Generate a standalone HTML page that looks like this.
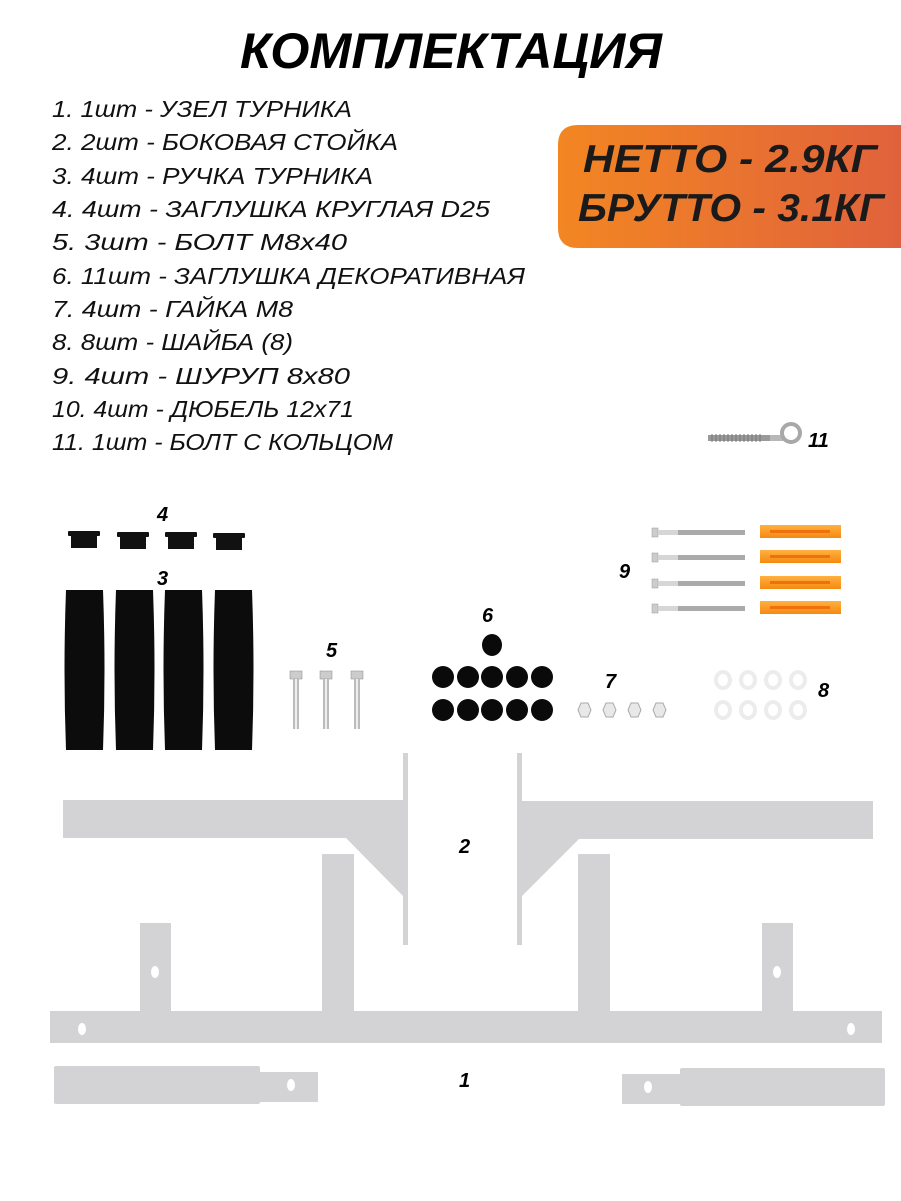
<!DOCTYPE html>
<html><head><meta charset="utf-8"><style>
html,body{margin:0;padding:0;background:#fff;}
svg{display:block;}
text{font-family:"Liberation Sans",sans-serif;}
</style></head><body>
<svg width="901" height="1201" viewBox="0 0 901 1201" xmlns="http://www.w3.org/2000/svg">
<defs>
<linearGradient id="og" x1="0" x2="1" y1="0" y2="0"><stop offset="0" stop-color="#f38622"/><stop offset="1" stop-color="#e0623c"/></linearGradient>
<linearGradient id="dw" x1="0" x2="0" y1="0" y2="1"><stop offset="0" stop-color="#ffb040"/><stop offset="1" stop-color="#f58a10"/></linearGradient>
</defs>
<text x="451" y="68" text-anchor="middle" font-size="50" font-weight="bold" font-style="italic" textLength="422" lengthAdjust="spacingAndGlyphs">КОМПЛЕКТАЦИЯ</text>
<g font-size="23" font-style="italic" fill="#111">
<text x="52" y="117" textLength="300" lengthAdjust="spacingAndGlyphs">1.  1шт - УЗЕЛ ТУРНИКА</text>
<text x="52" y="150" textLength="346" lengthAdjust="spacingAndGlyphs">2. 2шт - БОКОВАЯ СТОЙКА</text>
<text x="52" y="184" textLength="321" lengthAdjust="spacingAndGlyphs">3. 4шт - РУЧКА ТУРНИКА</text>
<text x="52" y="217" textLength="438" lengthAdjust="spacingAndGlyphs">4. 4шт - ЗАГЛУШКА КРУГЛАЯ D25</text>
<text x="52" y="250" textLength="295" lengthAdjust="spacingAndGlyphs">5. 3шт - БОЛТ М8х40</text>
<text x="52" y="284" textLength="473" lengthAdjust="spacingAndGlyphs">6. 11шт - ЗАГЛУШКА ДЕКОРАТИВНАЯ</text>
<text x="52" y="317" textLength="241" lengthAdjust="spacingAndGlyphs">7.  4шт - ГАЙКА М8</text>
<text x="52" y="350" textLength="241" lengthAdjust="spacingAndGlyphs">8. 8шт - ШАЙБА (8)</text>
<text x="52" y="384" textLength="298" lengthAdjust="spacingAndGlyphs">9. 4шт - ШУРУП 8х80</text>
<text x="52" y="417" textLength="302" lengthAdjust="spacingAndGlyphs">10. 4шт - ДЮБЕЛЬ 12х71</text>
<text x="52" y="450" textLength="341" lengthAdjust="spacingAndGlyphs">11. 1шт - БОЛТ С КОЛЬЦОМ</text>
</g>
<path d="M578 125 H901 V248 H578 Q558 248 558 228 V145 Q558 125 578 125Z" fill="url(#og)"/>
<text x="583" y="172" font-size="39" font-weight="bold" font-style="italic" fill="#1a1a1a" textLength="294" lengthAdjust="spacingAndGlyphs">НЕТТО - 2.9КГ</text>
<text x="578" y="221" font-size="39" font-weight="bold" font-style="italic" fill="#1a1a1a" textLength="306" lengthAdjust="spacingAndGlyphs">БРУТТО - 3.1КГ</text>
<g>
<rect x="708" y="435" width="70" height="6" fill="#9a9a9a"/>
<g stroke="#777" stroke-width="1"><path d="M712 434 v8 M716 434 v8 M720 434 v8 M724 434 v8 M728 434 v8 M732 434 v8 M736 434 v8 M740 434 v8 M744 434 v8 M748 434 v8 M752 434 v8 M756 434 v8 M760 434 v8"/></g>
<rect x="770" y="435" width="14" height="6" fill="#b8b8b8"/>
<circle cx="791" cy="433" r="9" fill="none" stroke="#a8a8a8" stroke-width="4"/>
</g>
<g font-size="20" font-weight="bold" font-style="italic" fill="#000">
<text x="808" y="447">11</text>
<text x="157" y="521">4</text>
<text x="157" y="585">3</text>
<text x="326" y="657">5</text>
<text x="482" y="622">6</text>
<text x="605" y="688">7</text>
<text x="818" y="697">8</text>
<text x="619" y="578">9</text>
<text x="459" y="853">2</text>
<text x="459" y="1087">1</text>
</g>
<g fill="#111">
<rect x="68" y="531" width="32" height="5" rx="1"/><rect x="71" y="536" width="26" height="12"/>
<rect x="117" y="532" width="32" height="5" rx="1"/><rect x="120" y="537" width="26" height="12"/>
<rect x="165" y="532" width="32" height="5" rx="1"/><rect x="168" y="537" width="26" height="12"/>
<rect x="213" y="533" width="32" height="5" rx="1"/><rect x="216" y="538" width="26" height="12"/>
</g>
<g fill="#0c0c0c">
<path d="M66 590 H103 Q106 670 103 750 H66 Q63 670 66 590Z"/>
<path d="M116 590 H153 Q156 670 153 750 H116 Q113 670 116 590Z"/>
<path d="M165 590 H202 Q205 670 202 750 H165 Q162 670 165 590Z"/>
<path d="M215 590 H252 Q255 670 252 750 H215 Q212 670 215 590Z"/>
</g>
<g>
<rect x="290" y="671" width="12" height="8" fill="#ccc" stroke="#888" stroke-width="0.5"/><rect x="293" y="679" width="6" height="50" fill="#bbb"/><rect x="295" y="679" width="2" height="50" fill="#eee"/>
<rect x="320" y="671" width="12" height="8" fill="#ccc" stroke="#888" stroke-width="0.5"/><rect x="323" y="679" width="6" height="50" fill="#bbb"/><rect x="325" y="679" width="2" height="50" fill="#eee"/>
<rect x="351" y="671" width="12" height="8" fill="#ccc" stroke="#888" stroke-width="0.5"/><rect x="354" y="679" width="6" height="50" fill="#bbb"/><rect x="356" y="679" width="2" height="50" fill="#eee"/>
</g>
<g fill="#0a0a0a">
<ellipse cx="492" cy="645" rx="10" ry="11"/>
<ellipse cx="443" cy="677" rx="11" ry="11"/><ellipse cx="468" cy="677" rx="11" ry="11"/><ellipse cx="492" cy="677" rx="11" ry="11"/><ellipse cx="517" cy="677" rx="11" ry="11"/><ellipse cx="542" cy="677" rx="11" ry="11"/>
<ellipse cx="443" cy="710" rx="11" ry="11"/><ellipse cx="468" cy="710" rx="11" ry="11"/><ellipse cx="492" cy="710" rx="11" ry="11"/><ellipse cx="517" cy="710" rx="11" ry="11"/><ellipse cx="542" cy="710" rx="11" ry="11"/>
</g>
<g fill="#e8e8e8" stroke="#aaa" stroke-width="1">
<polygon points="578,710 581,703 588,703 591,710 588,717 581,717"/>
<polygon points="603,710 606,703 613,703 616,710 613,717 606,717"/>
<polygon points="628,710 631,703 638,703 641,710 638,717 631,717"/>
<polygon points="653,710 656,703 663,703 666,710 663,717 656,717"/>
</g>
<g fill="none" stroke="#ececec" stroke-width="4">
<ellipse cx="723" cy="680" rx="7" ry="8"/><ellipse cx="748" cy="680" rx="7" ry="8"/><ellipse cx="773" cy="680" rx="7" ry="8"/><ellipse cx="798" cy="680" rx="7" ry="8"/>
<ellipse cx="723" cy="710" rx="7" ry="8"/><ellipse cx="748" cy="710" rx="7" ry="8"/><ellipse cx="773" cy="710" rx="7" ry="8"/><ellipse cx="798" cy="710" rx="7" ry="8"/>
</g>
<g>
<g id="sc"><rect x="652" y="528" width="6" height="9" fill="#ccc" stroke="#999" stroke-width="0.5"/><rect x="658" y="530" width="20" height="5" fill="#d6d6d6"/><rect x="678" y="530" width="67" height="5" fill="#aaa"/><rect x="760" y="525" width="81" height="13" fill="url(#dw)"/><rect x="770" y="530" width="60" height="3" fill="#f07010"/></g>
<use href="#sc" y="25"/><use href="#sc" y="51"/><use href="#sc" y="76"/>
</g>
<g fill="#d3d3d5">
<rect x="322" y="854" width="32" height="159"/>
<rect x="578" y="854" width="32" height="159"/>
<rect x="63" y="800" width="342" height="38"/>
<rect x="403" y="753" width="5" height="192"/>
<polygon points="346,838 403,838 403,896"/>
<rect x="522" y="801" width="351" height="38"/>
<rect x="517" y="753" width="5" height="192"/>
<polygon points="522,838 580,838 522,896"/>
<rect x="50" y="1011" width="832" height="32"/>
<rect x="140" y="923" width="31" height="90"/>
<rect x="762" y="923" width="31" height="90"/>
<rect x="54" y="1066" width="206" height="38" rx="2"/>
<rect x="258" y="1072" width="60" height="30"/>
<rect x="622" y="1074" width="60" height="30"/>
<rect x="680" y="1068" width="205" height="38" rx="2"/>
</g>
<g fill="#fff">
<ellipse cx="155" cy="972" rx="4" ry="6"/><ellipse cx="777" cy="972" rx="4" ry="6"/>
<ellipse cx="82" cy="1029" rx="4" ry="6"/><ellipse cx="851" cy="1029" rx="4" ry="6"/>
<ellipse cx="291" cy="1085" rx="4" ry="6"/><ellipse cx="648" cy="1087" rx="4" ry="6"/>
</g>
</svg>
</body></html>
